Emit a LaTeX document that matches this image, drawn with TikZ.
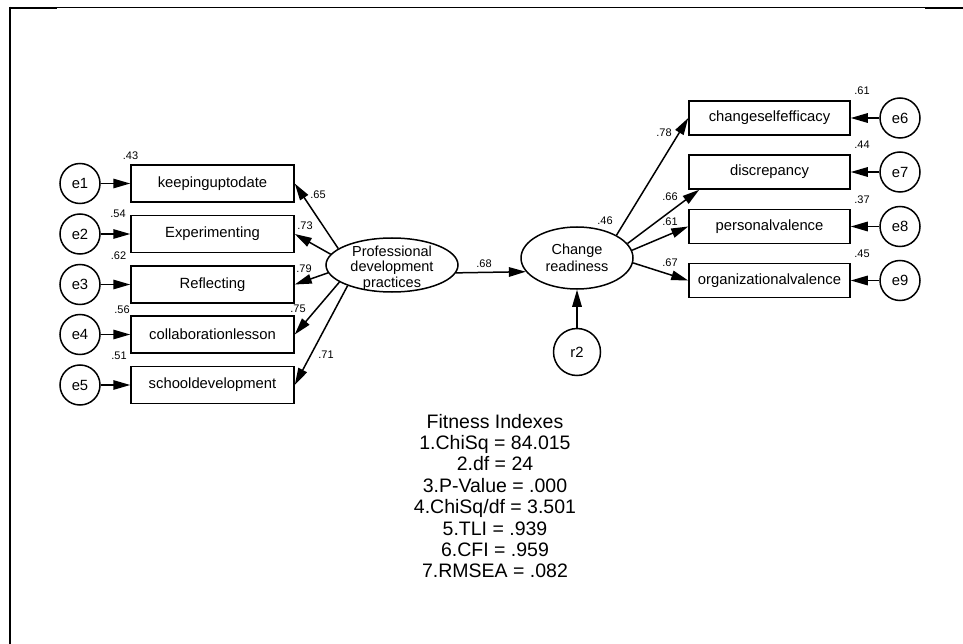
\documentclass[tikz,border=0pt]{standalone}
\usepackage{fontspec}
\setmainfont{Liberation Sans}
\usetikzlibrary{arrows.meta,shapes.geometric}
\tikzset{
  obs/.style={draw, line width=1.5pt, inner sep=0pt, font=\fontsize{14.8}{17}\selectfont},
  lbox/.style={obs, minimum width=163pt, minimum height=37pt},
  rbox/.style={obs, minimum width=161pt, minimum height=34pt},
  err/.style={draw, circle, line width=1.5pt, inner sep=0pt, minimum size=40pt, font=\fontsize{14.8}{17}\selectfont},
  lat/.style={draw, ellipse, line width=1.5pt, inner sep=0pt},
  lattext/.style={inner sep=0pt, align=center, font=\fontsize{14.5}{16}\selectfont},
  arr/.style={line width=1.5pt, -{Triangle[length=17pt,width=9.5pt]}},
  lbl/.style={inner sep=0pt, font=\fontsize{11}{12}\selectfont},
}
\begin{document}
\begin{tikzpicture}[x=1pt,y=-1pt]
\useasboundingbox (0,0) rectangle (963,644);
% frame
\draw[line width=1pt] (56,7.2) -- (926,7.2);
\draw[line width=2pt] (9.3,7.7) -- (57,7.7);
\draw[line width=2pt] (925,7.7) -- (963,7.7);
\draw[line width=2pt] (10.3,6.7) -- (10.3,644);

% left indicators
\node[lbox] (b1) at (212.5,183.5) {keepinguptodate};
\node[lbox] (b2) at (212.5,234) {Experimenting};
\node[lbox] (b3) at (212.5,284.5) {Reflecting};
\node[lbox] (b4) at (212.5,334.5) {collaborationlesson};
\node[lbox] (b5) at (212.5,385) {schooldevelopment};
\node[err] (e1) at (80,183.5) {e1};
\node[err] (e2) at (80,234) {e2};
\node[err] (e3) at (80,284.5) {e3};
\node[err] (e4) at (80,334.5) {e4};
\node[err] (e5) at (80,385) {e5};

% right indicators
\node[rbox] (c1) at (769.5,118) {changeselfefficacy};
\node[rbox] (c2) at (769.5,172) {discrepancy};
\node[rbox] (c3) at (769.5,226.5) {personalvalence};
\node[rbox] (c4) at (769.5,280.5) {organizationalvalence};
\node[err] (e6) at (900,118) {e6};
\node[err] (e7) at (900,172) {e7};
\node[err] (e8) at (900,226.5) {e8};
\node[err] (e9) at (900,280.5) {e9};

% latent variables
\node[lat, minimum width=132pt, minimum height=54pt] (pdp) at (392,265) {};
\node[lattext, font=\fontsize{14.5}{15.5}\selectfont] (pdpt) at (392,268) {Professional\\development\\practices};
\node[lat, minimum width=112pt, minimum height=62pt] (cr) at (577,258) {};
\node[lattext, font=\fontsize{14.5}{16.5}\selectfont] (crt) at (577,258) {Change\\readiness};
\node[err, minimum size=47pt] (r2) at (577,352) {r2};

\coordinate (c2tip) at ([xshift=11pt]c2.south west);

% connectors
\foreach \i in {1,...,5} {\draw[arr] (e\i) -- (b\i);}
\draw[arr] (e6) -- (c1);
\draw[arr] (e7) -- (c2);
\draw[arr] (e8) -- (c3);
\draw[arr] (e9) -- (c4);
\draw[arr] (pdp.163) -- (b1.east);
\draw[arr] (pdp.170.5) -- (b2.east);
\draw[arr] (pdp.187) -- (b3.east);
\draw[arr] (pdp.198.7) -- (b4.east);
\draw[arr] (pdp.205) -- (b5.east);
\draw[arr] (cr.30) -- (c1.west);
\draw[arr] (cr.16) -- (c2tip);
\draw[arr] (cr.8) -- (c3.west);
\draw[arr] (cr.-5) -- (c4.west);
\draw[arr] (pdp.-7) -- (cr.195);
\draw[arr] (r2) -- (cr);

% coefficient labels
\node[lbl] (l1) at (130.5,156) {.43};
\node[lbl] (l2) at (118,214) {.54};
\node[lbl] (l3) at (118.5,256) {.62};
\node[lbl] (l4) at (122,310) {.56};
\node[lbl] (l5) at (119,356) {.51};
\node[lbl] (k1) at (318,194.5) {.65};
\node[lbl] (k2) at (305,225.5) {.73};
\node[lbl] (k3) at (304,269) {.79};
\node[lbl] (k4) at (298,309) {.75};
\node[lbl] (k5) at (326,354.5) {.71};
\node[lbl] (m1) at (862,91) {.61};
\node[lbl] (m2) at (862,145) {.44};
\node[lbl] (m3) at (862,199.5) {.37};
\node[lbl] (m4) at (862,254) {.45};
\node[lbl] (n1) at (664,132.5) {.78};
\node[lbl] (n2) at (670,197) {.66};
\node[lbl] (n3) at (670,222) {.61};
\node[lbl] (n4) at (670,263) {.67};
\node[lbl] (crl) at (605,221) {.46};
\node[lbl] (pl) at (484,264) {.68};

% fitness indexes
\node[inner sep=0pt, align=center, font=\fontsize{19.5}{21.4}\selectfont] (fit) at (495,496)
 {Fitness Indexes\\1.ChiSq = 84.015\\2.df = 24\\3.P-Value = .000\\4.ChiSq/df = 3.501\\5.TLI = .939\\6.CFI = .959\\7.RMSEA = .082};
\end{tikzpicture}
\end{document}
